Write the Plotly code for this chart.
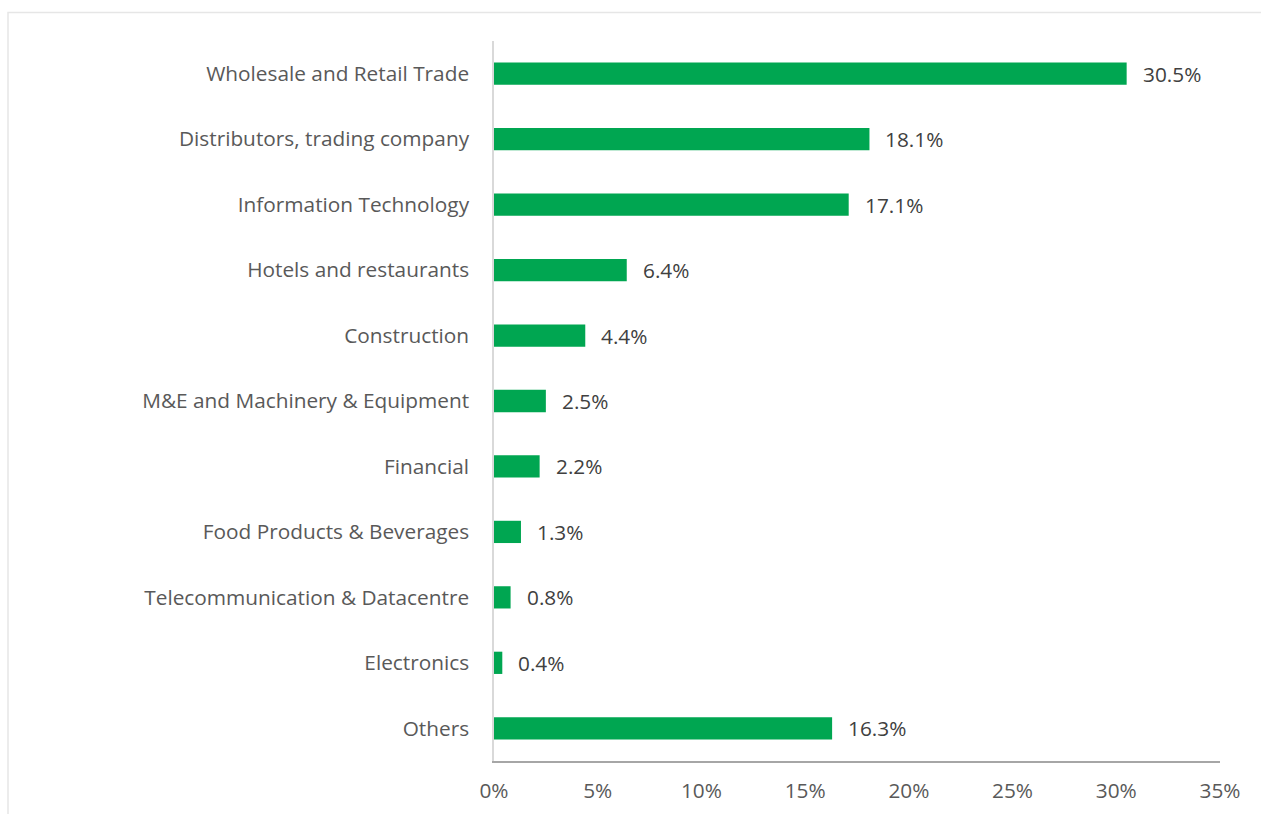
import plotly.graph_objects as go

categories = [
    "Wholesale and Retail Trade",
    "Distributors, trading company",
    "Information Technology",
    "Hotels and restaurants",
    "Construction",
    "M&E and Machinery & Equipment",
    "Financial",
    "Food Products & Beverages",
    "Telecommunication & Datacentre",
    "Electronics",
    "Others",
]
values = [30.5, 18.1, 17.1, 6.4, 4.4, 2.5, 2.2, 1.3, 0.8, 0.4, 16.3]
tick_vals = [0, 5, 10, 15, 20, 25, 30, 35]
tick_text = ["0%", "5%", "10%", "15%", "20%", "25%", "30%", "35%"]
labels = [f"{v:.1f}%" for v in values]

FONT = "Open Sans"
TXT = "#595959"
FS = 20.8

fig = go.Figure()
fig.add_trace(go.Bar(
    x=values, y=categories, orientation="h",
    marker=dict(color="#00A651", line=dict(width=0)),
    width=0.34, hoverinfo="x+y",
))

for c, v, t in zip(categories, values, labels):
    fig.add_annotation(x=v, y=c, text=t, showarrow=False, xanchor="left",
                       xshift=14, font=dict(family=FONT, size=FS, color="#404040"))

W, H = 1261, 814
L, R, T, B = 494, 41, 41, 53
pw, ph = W - L - R, H - T - B

fig.add_shape(type="rect", xref="paper", yref="paper",
              x0=(8 - L) / pw, x1=(W + 5 - L) / pw,
              y0=-(B + 5) / ph, y1=1 + (T - 12.5) / ph,
              line=dict(color="#E6E6E6", width=1.5), layer="below")

fig.update_layout(
    width=W, height=H,
    margin=dict(l=L, r=R, t=T, b=B, pad=0, autoexpand=False),
    paper_bgcolor="white", plot_bgcolor="white",
    showlegend=False,
    font=dict(family=FONT, size=FS, color=TXT),
    bargap=0.66,
)
fig.update_xaxes(range=[0, 35], tickvals=tick_vals, ticktext=tick_text,
                 showgrid=False, zeroline=False, showline=True,
                 linecolor="#A6A6A6", linewidth=1.5, ticks="",
                 ticklabelstandoff=10, automargin=False,
                 tickfont=dict(family=FONT, size=FS, color=TXT))
fig.update_yaxes(categoryorder="array", categoryarray=categories,
                 autorange="reversed", showgrid=False, zeroline=False,
                 showline=True, linecolor="#D9D9D9", linewidth=1.5, ticks="",
                 ticklabelstandoff=19, automargin=False,
                 tickfont=dict(family=FONT, size=FS, color=TXT))

fig.write_html(
    "out.html",
    config={"displayModeBar": False},
    post_script="document.body.style.margin='0';document.body.style.overflow='hidden';",
)
